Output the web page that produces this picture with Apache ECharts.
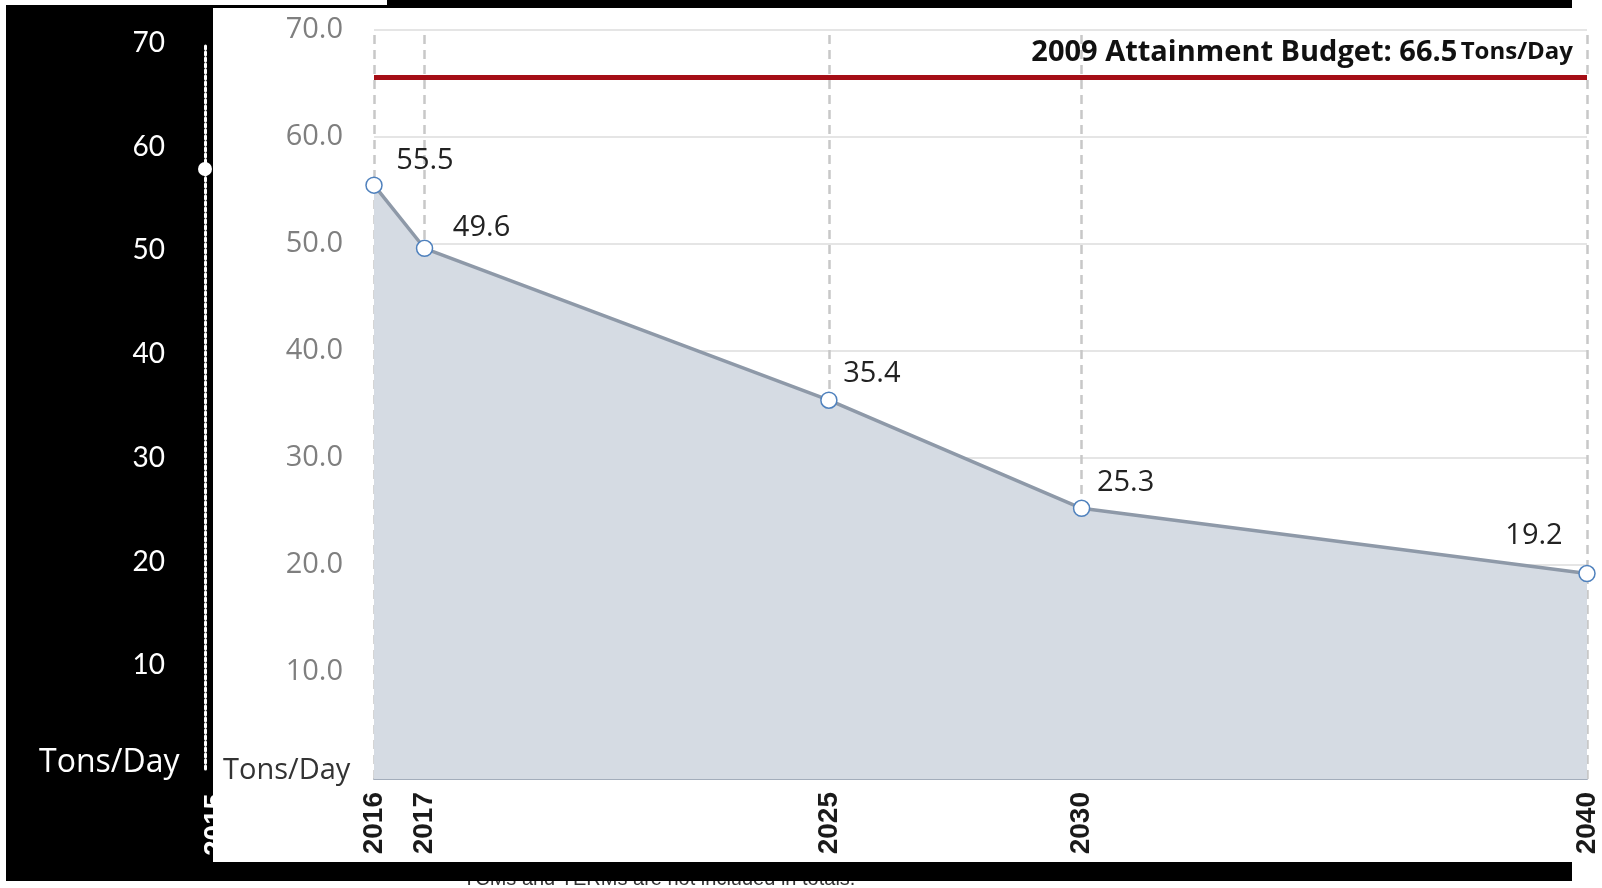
<!DOCTYPE html>
<html>
<head>
<meta charset="utf-8">
<script src="https://cdn.jsdelivr.net/npm/echarts@6/dist/echarts.min.js"></script>
<style>
html,body{margin:0;padding:0;background:#fff;}
#chart{width:1602px;height:888px;}
</style>
</head>
<body>
<div id="chart"></div>
<script>
// ---- data ----
const years = [2016, 2017, 2025, 2030, 2040];
const tonsPerDay = [55.5, 49.6, 35.4, 25.3, 19.2];
const budgetLineLevel = 65.6;          // where the red budget line sits in the picture
const budgetLabel = '2009 Attainment Budget: 66.5';
const budgetUnit = 'Tons/Day';
const leftEchoTicks = [0, 10, 20, 30, 40, 50, 60, 70];
const labelOffsets = [[51, 7], [57, 11], [43, 5], [44, 6], [-53, -7]];
const footnote = 'TCMs and TERMs are not included in totals.';

const chart = echarts.init(document.getElementById('chart'));

const seriesData = years.map((y, i) => ({
  value: [y, tonsPerDay[i]],
  label: { offset: labelOffsets[i] }
}));

const option = {
  backgroundColor: 'transparent',
  animation: false,
  graphic: [
    { type: 'text', z: -30, left: 463, top: 869, style: { text: footnote, fill: '#333', font: '20px "Liberation Sans", Arial' } },
    { type: 'rect', z: -20, shape: { x: 387, y: 0, width: 1185, height: 6 }, style: { fill: '#000' } },
    { type: 'rect', z: -20, shape: { x: 6, y: 5, width: 1566, height: 876 }, style: { fill: '#000' } },
    { type: 'text', z: -15, x: 201, y: 856, rotation: Math.PI / 2, style: { text: '2015', fill: '#fff', font: 'bold 28px "Liberation Sans", Arial', textAlign: 'left', textVerticalAlign: 'top' } },
    { type: 'rect', z: -10, shape: { x: 213, y: 8, width: 1389, height: 854 }, style: { fill: '#fff' } },
    { type: 'text', z: 5, left: 39, top: 747, style: { text: 'Tons/Day', fill: '#fff', font: '32px "Open Sans", sans-serif' } },
    { type: 'text', z: 5, left: 223, top: 756, style: { text: 'Tons/Day', fill: '#333', font: '29px "Open Sans", sans-serif' } },
    { type: 'circle', z: 5, shape: { cx: 205, cy: 169, r: 7 }, style: { fill: '#fff' } }
  ],
  grid: [
    { left: 374, right: 15, top: 30, bottom: 109 },
    { left: 205, width: 2, top: 43, height: 726 }
  ],
  xAxis: [
    {
      type: 'value', gridIndex: 0, min: 2016, max: 2040,
      axisLine: { show: true, lineStyle: { color: '#a3adbb', width: 2 } },
      axisTick: { show: false },
      splitLine: { show: false },
      axisLabel: {
        customValues: years,
        rotate: 90, margin: 13,
        color: '#1a1a1a', fontSize: 28, fontWeight: 'bold',
        fontFamily: '"Liberation Sans", Arial, sans-serif',
        formatter: v => String(v)
      }
    },
    { type: 'value', gridIndex: 1, show: false, min: 0, max: 1 }
  ],
  yAxis: [
    {
      type: 'value', gridIndex: 0, min: 0, max: 70, interval: 10,
      axisLine: { show: false },
      axisTick: { show: false },
      splitLine: { show: true, lineStyle: { color: '#dcdcdc', width: 1.5 } },
      axisLabel: {
        margin: 31, color: '#7f7f7f', fontSize: 29,
        fontFamily: '"Open Sans", sans-serif',
        formatter: v => (v === 0 ? '' : v.toFixed(1))
      }
    },
    {
      type: 'value', gridIndex: 1, min: leftEchoTicks[0], max: leftEchoTicks[leftEchoTicks.length - 1], interval: 10,
      axisLine: { show: true, lineStyle: { color: '#fff', width: 3, type: 'dotted' } },
      axisTick: { show: false },
      splitLine: { show: false },
      axisLabel: {
        margin: 40, color: '#fff', fontSize: 28,
        fontFamily: 'Lato, "Open Sans", sans-serif',
        formatter: v => (v === 0 ? '' : String(v))
      }
    }
  ],
  series: [
    {
      type: 'line',
      xAxisIndex: 0, yAxisIndex: 0,
      data: seriesData,
      z: 3,
      symbol: 'circle', symbolSize: 16,
      itemStyle: { color: '#fff', borderColor: '#4f81bd', borderWidth: 1.5 },
      lineStyle: { color: '#8e99a8', width: 3.5 },
      areaStyle: { color: '#d5dbe3', opacity: 1 },
      label: {
        show: true, position: 'top', distance: 8,
        color: '#222', fontSize: 29, fontFamily: '"Open Sans", sans-serif',
        formatter: p => p.value[1].toFixed(1)
      },
      markLine: {
        silent: true, symbol: 'none', z: 2,
        label: { show: false },
        data: [
          ...years.map(y => ({ xAxis: y, lineStyle: { color: '#c8c8c8', width: 2.5, type: [9, 6] } })),
          {
            yAxis: budgetLineLevel,
            lineStyle: { color: '#a50e16', width: 5, type: 'solid' },
            label: {
              show: true, position: 'insideEndTop', distance: [14, 10],
              formatter: '{a|' + budgetLabel + '} {b|' + budgetUnit + '}',
              rich: {
                a: { fontSize: 29, fontWeight: 'bold', color: '#111', fontFamily: '"Open Sans", sans-serif' },
                b: { fontSize: 24, fontWeight: 'bold', color: '#111', fontFamily: '"Open Sans", sans-serif' }
              }
            }
          }
        ]
      }
    }
  ]
};
chart.setOption(option);
</script>
</body>
</html>
